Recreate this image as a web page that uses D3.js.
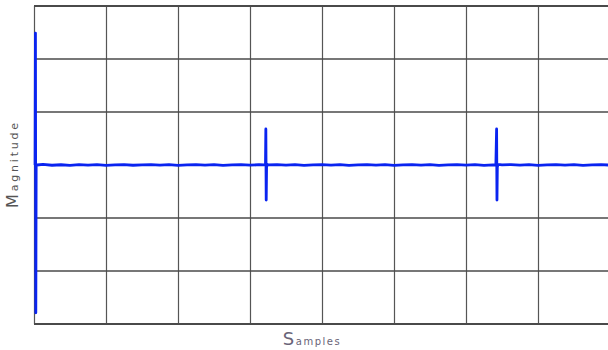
<!DOCTYPE html>
<html>
<head>
<meta charset="utf-8">
<script src="https://cdn.jsdelivr.net/npm/d3@7"></script>
<style>
  body { margin: 0; background: #fff; }
  svg { display: block; }
</style>
</head>
<body>
<div id="chart"></div>
<script>
"use strict";

// grid divisions
var xTicks = [0, 200, 400, 600, 800, 1000, 1200, 1400, 1600];
var yTicks = [-3, -2, -1, 0, 1, 2, 3];

// signal (sample index, magnitude)
var samples = [0, 3, 4, 5, 6, 8,
  25, 50, 75, 100, 125, 150, 175, 200, 225, 250, 275, 300, 325, 350, 375, 400,
  425, 450, 475, 500, 525, 550, 575, 600, 625, 640, 643, 644, 645, 646, 648,
  650, 675, 700, 725, 750, 775, 800, 825, 850, 875, 900, 925, 950, 975, 1000,
  1025, 1050, 1075, 1100, 1125, 1150, 1175, 1200, 1225, 1250, 1275, 1283, 1285, 1286, 1287, 1289,
  1300, 1325, 1350, 1375, 1400, 1425, 1450, 1475, 1500, 1525, 1550, 1575, 1600];
var magnitude = [0.0, 0.0, 2.49, -2.79, 0.01, 0.0,
  0.01, -0.005, 0.005, -0.008, 0.006, -0.004, 0.007, -0.006, 0.004, 0.008, -0.005, 0.003, 0.007, -0.004, 0.006, -0.007,
  0.004, 0.008, -0.003, 0.006, -0.006, 0.003, 0.008, -0.004, 0.006, 0.003, 0.0, 0.68, -0.66, -0.04, 0.01,
  0.003, 0.007, -0.004, 0.006, -0.007, 0.003, 0.008, -0.004, 0.006, -0.006, 0.004, 0.007, -0.003, 0.006, -0.007,
  0.004, 0.008, -0.004, 0.006, -0.006, 0.003, 0.007, -0.004, 0.006, -0.006, 0.004, 0.0, 0.68, -0.66, -0.04, 0.01,
  0.003, 0.007, -0.004, 0.006, -0.006, 0.004, 0.008, -0.004, 0.006, -0.006, 0.003, 0.007, -0.002];

var width = 608, height = 350;
var margin = {left: 34, top: 6, right: -2, bottom: 26};

var x = d3.scaleLinear()
  .domain([0, 1600])
  .range([margin.left, width - margin.right]);
var y = d3.scaleLinear()
  .domain([-3, 3])
  .range([height - margin.bottom, margin.top]);

var svg = d3.select("#chart")
  .append("svg")
  .attr("width", width)
  .attr("height", height);

// grid
var grid = svg.append("g").attr("class", "grid");
grid.selectAll("line.v")
  .data(xTicks)
  .enter()
  .append("line")
  .attr("class", "v")
  .attr("x1", function(d) { return Math.round(x(d)) + 0.5; })
  .attr("x2", function(d) { return Math.round(x(d)) + 0.5; })
  .attr("y1", y(3))
  .attr("y2", y(-3))
  .attr("stroke", "#555")
  .attr("stroke-width", 1.2);
grid.selectAll("line.h")
  .data(yTicks)
  .enter()
  .append("line")
  .attr("class", "h")
  .attr("x1", x(0))
  .attr("x2", width)
  .attr("y1", function(d) { return Math.round(y(d)); })
  .attr("y2", function(d) { return Math.round(y(d)); })
  .attr("stroke", "#4a4a4a")
  .attr("stroke-width", function(d) { return (d === 3 || d === -3) ? 2 : 1.6; });

// small tick marks inside the box
grid.selectAll("rect.tt")
  .data(xTicks)
  .enter()
  .append("rect")
  .attr("x", function(d) { return Math.round(x(d)); })
  .attr("y", y(3) + 7)
  .attr("width", 1)
  .attr("height", 2)
  .attr("fill", "#555");
grid.selectAll("rect.bt")
  .data(xTicks)
  .enter()
  .append("rect")
  .attr("x", function(d) { return Math.round(x(d)); })
  .attr("y", y(-3) - 10)
  .attr("width", 1)
  .attr("height", 2)
  .attr("fill", "#555");

// signal
var line = d3.line()
  .x(function(d, i) { return x(samples[i]); })
  .y(function(d) { return y(d); });

svg.append("path")
  .datum(magnitude)
  .attr("d", line)
  .attr("fill", "none")
  .attr("stroke", "#0a24f0")
  .attr("stroke-width", 2.8)
  .attr("stroke-linejoin", "round");

// axis labels
var ylab = svg.append("text")
  .attr("transform", "translate(18,164) rotate(-90)")
  .attr("text-anchor", "middle")
  .attr("fill", "#555")
  .style("font-family", "DejaVu Sans, sans-serif")
  .style("letter-spacing", "2.8px");
ylab.append("tspan").style("font-size", "16px").text("M");
ylab.append("tspan").style("font-size", "11px").text("agnitude");

var xlab = svg.append("text")
  .attr("x", 312)
  .attr("y", 345)
  .attr("text-anchor", "middle")
  .attr("fill", "#6a6478")
  .style("font-family", "DejaVu Sans, sans-serif")
  .style("letter-spacing", "1.5px");
xlab.append("tspan").style("font-size", "18px").text("S");
xlab.append("tspan").style("font-size", "10px").text("amples");
</script>
</body>
</html>
